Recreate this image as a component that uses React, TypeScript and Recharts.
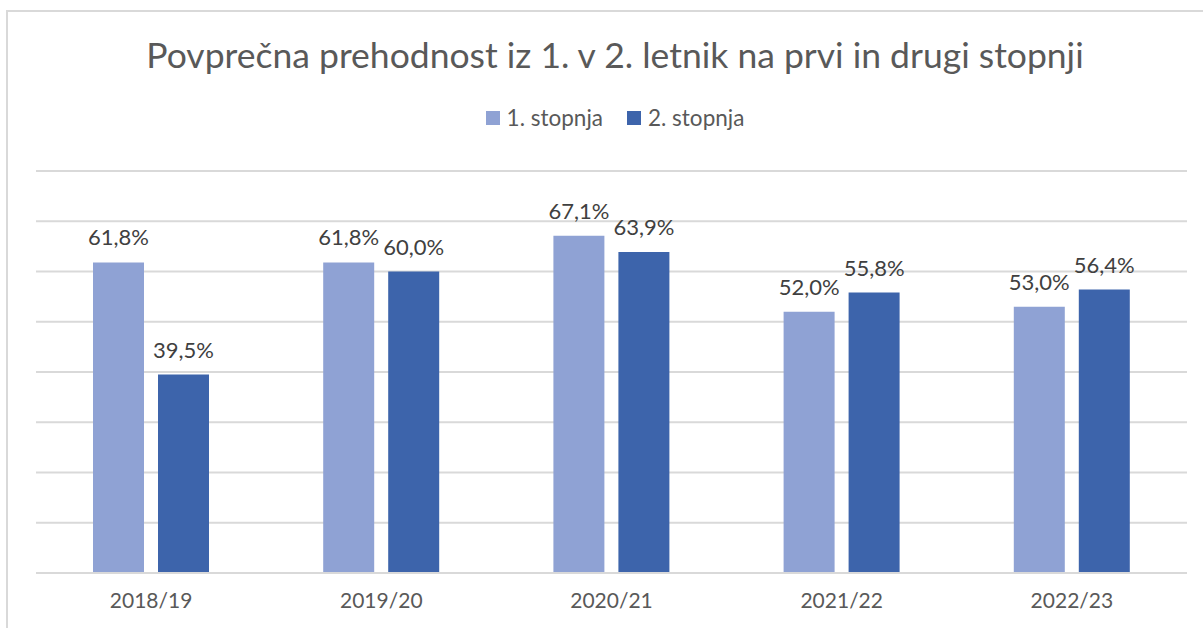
import React from "react";
import { BarChart, Bar, XAxis, YAxis, CartesianGrid, Legend, LabelList } from "recharts";

const categories = ["2018/19", "2019/20", "2020/21", "2021/22", "2022/23"];
const stopnja1 = [61.8, 61.8, 67.1, 52.0, 53.0];
const stopnja2 = [39.5, 60.0, 63.9, 55.8, 56.4];
const seriesNames = ["1. stopnja", "2. stopnja"];
const yTicks = [0, 10, 20, 30, 40, 50, 60, 70, 80];
const titleText = "Povprečna prehodnost iz 1. v 2. letnik na prvi in drugi stopnji";

const data = categories.map((c, i) => ({ cat: c, s1: stopnja1[i], s2: stopnja2[i] }));

const COLORS = ["#8FA2D4", "#3D64AB"];
const FONT = "Lato, 'Open Sans', sans-serif";

const fmt = (v: any) => Number(v).toFixed(1).replace(".", ",") + "%";

const renderLegend = (props: any) => {
  const { payload } = props;
  return (
    <div style={{ display: "flex", justifyContent: "center", gap: 24, fontFamily: FONT, fontSize: 22.5, color: "#595959" }}>
      {payload.map((p: any, i: number) => (
        <div key={i} style={{ display: "flex", alignItems: "center", gap: 7 }}>
          <span style={{ display: "inline-block", width: 14, height: 14, background: p.color }} />
          <span>{p.value}</span>
        </div>
      ))}
    </div>
  );
};

export default function App() {
  return (
    <div style={{ position: "absolute", left: 0, top: 0, width: 1203, height: 628, background: "#fff", overflow: "hidden" }}>
      <div style={{ position: "absolute", left: 6, top: 10, width: 1300, height: 700, borderLeft: "2px solid #D9D9D9", borderTop: "2px solid #D9D9D9", boxSizing: "border-box" }} />
      <div style={{ position: "absolute", left: 0, top: 33, width: 1230, textAlign: "center", fontFamily: FONT, fontSize: 35.5, color: "#595959", fontWeight: 400, lineHeight: "44px" }}>
        {titleText}
      </div>
      <div style={{ position: "absolute", left: 0, top: 0 }}>
        <BarChart
          width={1203}
          height={628}
          data={data}
          margin={{ top: 171, right: 16, bottom: 15, left: 36 }}
          barCategoryGap={57}
          barGap={14}
          barSize={51}
        >
          <CartesianGrid vertical={false} stroke="#D9D9D9" strokeWidth={2} />
          <YAxis hide domain={[0, 80]} ticks={yTicks} />
          <XAxis
            dataKey="cat"
            height={40}
            tickLine={false}
            axisLine={{ stroke: "#D9D9D9", strokeWidth: 2 }}
            tick={{ fill: "#595959", fontSize: 21, fontFamily: FONT }}
            tickMargin={14}
          />
          <Legend
            verticalAlign="middle"
            layout="horizontal"
            content={renderLegend}
            wrapperStyle={{ top: 104, left: 0, width: 1230 }}
          />
          <Bar dataKey="s1" name={seriesNames[0]} fill={COLORS[0]} isAnimationActive={false}>
            <LabelList dataKey="s1" position="top" offset={17} formatter={fmt} style={{ fill: "#404040", fontSize: 22, fontFamily: FONT }} />
          </Bar>
          <Bar dataKey="s2" name={seriesNames[1]} fill={COLORS[1]} isAnimationActive={false}>
            <LabelList dataKey="s2" position="top" offset={17} formatter={fmt} style={{ fill: "#404040", fontSize: 22, fontFamily: FONT }} />
          </Bar>
        </BarChart>
      </div>
    </div>
  );
}
